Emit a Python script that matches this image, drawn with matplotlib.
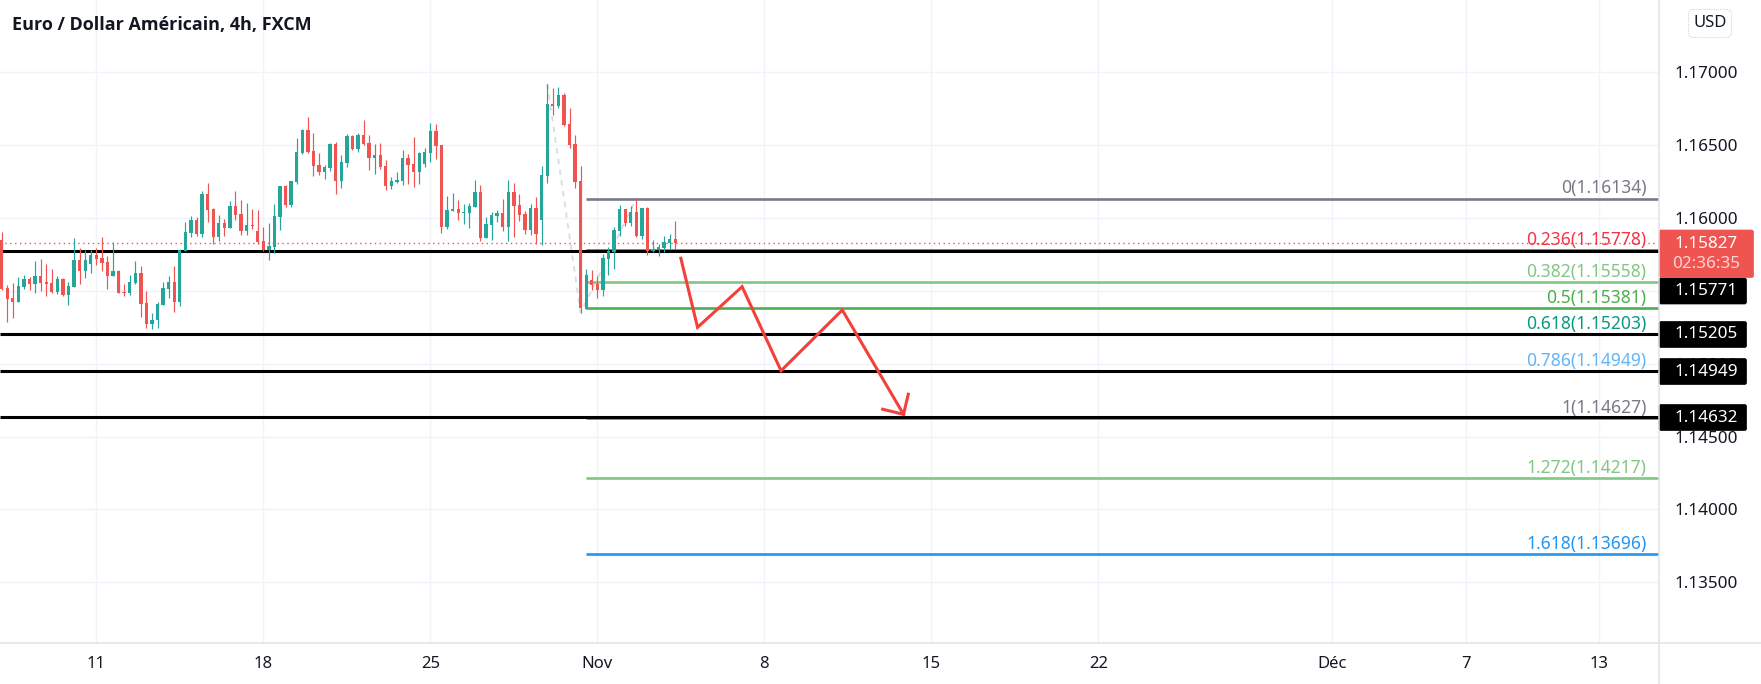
import matplotlib
matplotlib.use('Agg')
import matplotlib.pyplot as plt
import matplotlib.patches as patches
import numpy as np

plt.rcParams['font.family'] = ['Noto Sans', 'DejaVu Sans']

# prices in 1e-5 units, one value per 4h bar
opens = [115851, 115522, 115453, 115426, 115529, 115584, 115549, 115604, 115563, 115556, 115494, 115584,
         115474, 115529, 115714, 115639, 115687, 115748, 115728, 115700, 115604, 115639, 115494, 115488,
         115556, 115625, 115419, 115275, 115298, 115405, 115515, 115563, 115426, 115776, 115899, 115989,
         115892, 116167, 116064, 115872, 115968, 115934, 116085, 116030, 115913, 115954, 115913, 115844,
         115783, 115803, 116009, 116222, 116092, 116249, 116448, 116606, 116462, 116366, 116318, 116345,
         116510, 116256, 116380, 116565, 116476, 116572, 116517, 116414, 116435, 116359, 116222, 116249,
         116256, 116414, 116373, 116318, 116373, 116448, 116600, 116503, 115941, 116050, 116064, 116037,
         116037, 116078, 116181, 115865, 115954, 116016, 116037, 115941, 116181, 116092, 116030, 115920,
         116071, 115989, 116291, 116785, 116771, 116847, 116648, 116510, 116256, 115378, 115577, 115549,
         115508, 115721, 115769, 115913, 116064, 115968, 116043, 115879, 116071, 115776, 115783, 115796,
         115831, 115858]
highs = [115904, 115542, 115556, 115597, 115611, 115597, 115707, 115721, 115687, 115652, 115604, 115590,
         115563, 115865, 115796, 115783, 115783, 115796, 115872, 115741, 115838, 115645, 115549, 115611,
         115707, 115673, 115501, 115350, 115426, 115563, 115604, 115673, 115790, 115975, 116016, 116009,
         116188, 116243, 116071, 116023, 115995, 116119, 116188, 116126, 116105, 116064, 116057, 115941,
         115968, 116098, 116222, 116229, 116256, 116551, 116613, 116696, 116586, 116448, 116366, 116517,
         116524, 116435, 116579, 116572, 116586, 116675, 116572, 116510, 116517, 116400, 116284, 116318,
         116469, 116442, 116558, 116455, 116483, 116654, 116648, 116503, 116153, 116174, 116126, 116098,
         116105, 116263, 116229, 116009, 116043, 116057, 116133, 116263, 116243, 116167, 116050, 116098,
         116146, 116359, 116922, 116895, 116901, 116860, 116757, 116572, 116359, 115652, 115645, 115604,
         115755, 115803, 115941, 116092, 116064, 116085, 116133, 116071, 116078, 115851, 115824, 115879,
         115892, 115982]
lows = [115508, 115288, 115316, 115426, 115515, 115508, 115488, 115501, 115467, 115488, 115481, 115467,
        115405, 115529, 115549, 115590, 115625, 115680, 115639, 115515, 115604, 115488, 115467, 115474,
        115549, 115323, 115247, 115240, 115247, 115405, 115453, 115357, 115398, 115776, 115872, 115879,
        115872, 115975, 115824, 115844, 115879, 115934, 115989, 115886, 115886, 115927, 115824, 115776,
        115714, 115762, 115920, 116078, 116078, 116236, 116442, 116448, 116291, 116297, 116270, 116325,
        116167, 116208, 116352, 116469, 116455, 116503, 116332, 116304, 116339, 116194, 116201, 116243,
        116229, 116236, 116215, 116236, 116352, 116387, 116407, 115899, 115927, 116050, 115989, 115961,
        115934, 116078, 115844, 115865, 115851, 115975, 115913, 115844, 115872, 115982, 115892, 115886,
        115824, 115817, 116243, 116709, 116757, 116634, 116483, 116208, 115350, 115378, 115508, 115453,
        115467, 115611, 115652, 115879, 115947, 115947, 115872, 115858, 115748, 115769, 115741, 115769,
        115790, 115790]
closes = [115513, 115446, 115426, 115536, 115584, 115549, 115604, 115556, 115549, 115494, 115584, 115474,
          115536, 115714, 115639, 115714, 115748, 115721, 115693, 115604, 115639, 115488, 115488, 115563,
          115625, 115412, 115275, 115302, 115412, 115522, 115563, 115426, 115783, 115906, 115989, 115892,
          116167, 116057, 115872, 115968, 115934, 116085, 116023, 115913, 115954, 115947, 115838, 115783,
          115810, 116016, 116222, 116092, 116256, 116455, 116606, 116455, 116359, 116318, 116352, 116510,
          116256, 116387, 116565, 116476, 116572, 116510, 116414, 116435, 116352, 116222, 116256, 116263,
          116414, 116366, 116318, 116448, 116455, 116600, 116497, 115941, 116057, 116064, 116037, 116043,
          116085, 116181, 115865, 115961, 116023, 116037, 115941, 116181, 116085, 116023, 115920, 116071,
          115892, 116297, 116785, 116771, 116847, 116641, 116503, 116249, 115380, 115611, 115542, 115508,
          115728, 115776, 115920, 116064, 115968, 116043, 115879, 116071, 115776, 115783, 115803, 115838,
          115858, 115827]

fib_ratios = ['0', '0.236', '0.382', '0.5', '0.618', '0.786', '1', '1.272', '1.618']
fib_levels = [1.16134, 1.15778, 1.15558, 1.15381, 1.15203, 1.14949, 1.14627, 1.14217, 1.13696]
fib_colors = ['#787b86', '#f23645', '#81c784', '#4caf50', '#089981', '#64b5f6', '#787b86', '#81c784', '#2196f3']

black_levels = [1.15771, 1.15205, 1.14949, 1.14632]
last_price = 1.15827

zigzag_x = [122, 125, 133, 140, 151, 162]
zigzag_y = [1.15724, 1.15250, 1.15529, 1.14952, 1.15369, 1.14653]
head_x = [158.25, 162, 162.85]
head_y = [1.14688, 1.14653, 1.14791]

trend_x = [98, 104, 114]
trend_y = [1.16922, 1.15350, 1.16133]

price_ticks = [1.17, 1.165, 1.16, 1.155, 1.15, 1.145, 1.14, 1.135]
date_ticks = [17, 47, 77, 107, 137, 167, 197, 239, 263, 287]
date_labels = ['11', '18', '25', 'Nov', '8', '15', '22', 'Déc', '7', '13']

GREEN = '#26a69a'
RED = '#f05450'
GRID = '#f0f3fa'
BORDER = '#e0e3eb'
TEXT = '#131722'

W, H = 1761, 684
PLOT_W, PLOT_H = 1659, 643

fig = plt.figure(figsize=(W / 100, H / 100), dpi=100, facecolor='white')
ax = fig.add_axes([0, (H - PLOT_H) / H, PLOT_W / W, PLOT_H / H])

o = np.array(opens) / 1e5
h = np.array(highs) / 1e5
l = np.array(lows) / 1e5
c = np.array(closes) / 1e5
idx = np.arange(len(o))
colors = [GREEN if cl >= op else RED for op, cl in zip(o, c)]

# grid
for t in price_ticks:
    ax.axhline(t, color=GRID, lw=1.0, zorder=0)
for t in date_ticks:
    ax.axvline(t, color=GRID, lw=1.0, zorder=0)

# trend line of the fib tool
ax.plot(trend_x, trend_y, color='#d9dbe0', lw=1.3, ls=(0, (3, 3)), zorder=1)

# fib levels
for ratio, lev, col in zip(fib_ratios, fib_levels, fib_colors):
    ax.hlines(lev, 105, 297.7, color=col, lw=1.9, zorder=2)
    ax.annotate(f'{ratio}({lev:.5f})', xy=(1, lev), xycoords=ax.get_yaxis_transform(),
                xytext=(-9, 7.3), textcoords='offset points', ha='right', va='center',
                color=col, fontsize=12.6, zorder=6)

# drawn support lines
for lev in black_levels:
    ax.axhline(lev, color='black', lw=2.2, zorder=3, solid_capstyle='butt')

# last price
ax.axhline(last_price, color=RED, lw=1.0, ls=(0, (1, 2.5)), zorder=3)

# candles
ax.vlines(idx, l, h, colors=colors, lw=0.85, zorder=4)
ax.bar(idx, np.maximum(np.abs(c - o), 0.00002), bottom=np.minimum(o, c), width=0.6,
       color=colors, linewidth=0, zorder=5)

# red path
ax.plot(zigzag_x, zigzag_y, color='#f4403a', lw=2.2, zorder=7, solid_joinstyle='miter')
ax.plot(head_x, head_y, color='#f4403a', lw=2.2, zorder=7, solid_joinstyle='miter')

ax.set_xlim(-0.3, 297.7)
ax.set_ylim(1.135 - (643 - 582.3) / 14569, 1.17 + 72.4 / 14569)
ax.set_xticks(date_ticks)
ax.set_xticklabels(date_labels, fontsize=12, color=TEXT)
ax.yaxis.tick_right()
ax.set_yticks(price_ticks)
ax.set_yticklabels([f'{t:.5f}' for t in price_ticks], fontsize=12.3, color=TEXT)
ax.tick_params(axis='both', length=0)
ax.tick_params(axis='x', pad=9)
ax.tick_params(axis='y', pad=11)
for s in ax.spines.values():
    s.set_visible(False)

# overlay in pixels for everything outside of the price scale
ov = fig.add_axes([0, 0, 1, 1], zorder=10)
ov.set_xlim(0, W)
ov.set_ylim(H, 0)
ov.axis('off')
ov.patch.set_alpha(0)

ov.plot([PLOT_W, PLOT_W], [0, H], color=BORDER, lw=1.1)
ov.plot([0, W], [PLOT_H, PLOT_H], color=BORDER, lw=1.1)

ov.text(12, 25, 'Euro / Dollar Américain, 4h, FXCM', fontsize=13, fontweight='bold',
        family=['Open Sans', 'DejaVu Sans'], color=TEXT, va='center', ha='left')

ov.add_patch(patches.FancyBboxPatch((1690, 11), 40, 25, boxstyle='round,pad=1.5,rounding_size=5',
                                    fc='white', ec='#d4d6dc', lw=0.8, ls=(0, (1, 1))))
ov.text(1710, 23, 'USD', fontsize=12, color=TEXT, ha='center', va='center')

# black price tags
tag_centers = [291, 334.5, 371.5, 417.5]
for lev, yc in zip(black_levels, tag_centers):
    ov.add_patch(patches.FancyBboxPatch((1659, yc - 13), 87.5, 26, boxstyle='round,pad=0,rounding_size=2',
                                        fc='black', ec='black', lw=0.5))
    ov.text(1706, yc, f'{lev:.5f}', color='white', fontsize=12.3, ha='center', va='center')

# last price tag with countdown
ov.add_patch(patches.FancyBboxPatch((1659, 230), 94.5, 47.5, boxstyle='round,pad=0,rounding_size=2',
                                    fc=RED, ec=RED, lw=0.5))
ov.text(1706, 244, f'{last_price:.5f}', color='white', fontsize=12.3, ha='center', va='center')
ov.text(1706, 264.5, '02:36:35', color='#fbd5d3', fontsize=12.3, ha='center', va='center')

fig.savefig('out.png', dpi=100, facecolor='white')
